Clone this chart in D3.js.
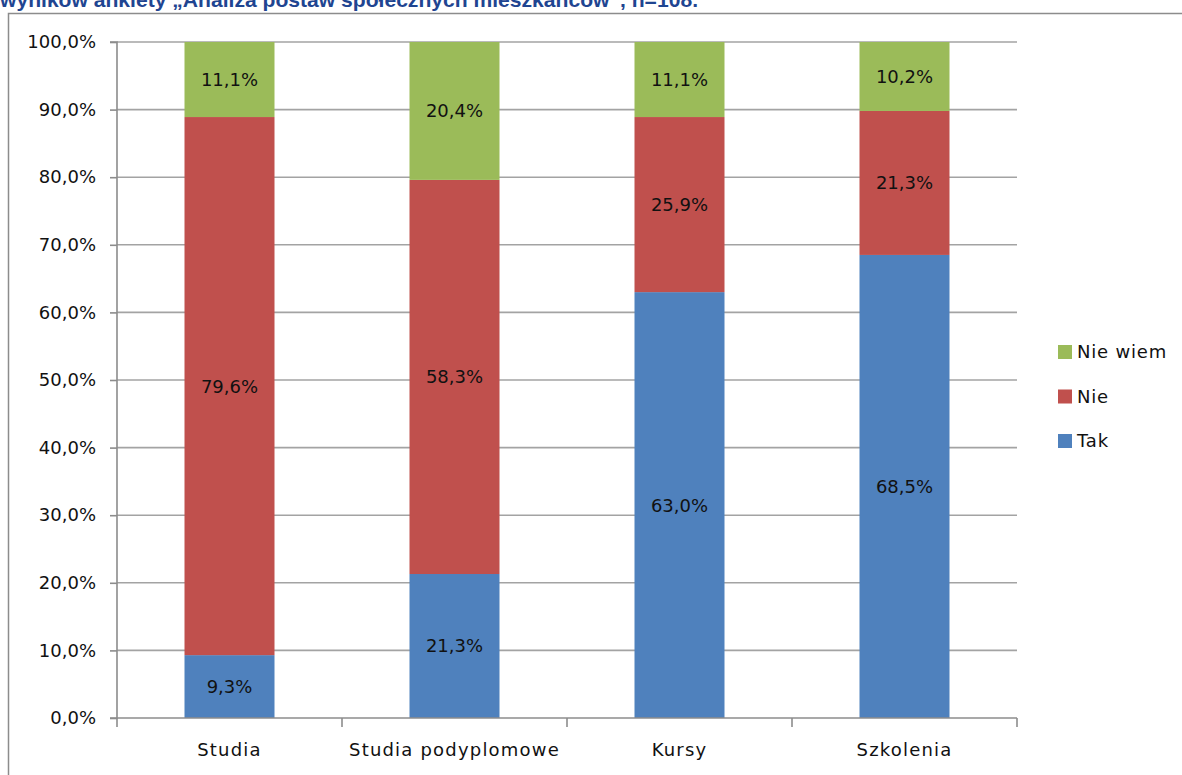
<!DOCTYPE html>
<html><head><meta charset="utf-8">
<script src="https://cdn.jsdelivr.net/npm/d3@7/dist/d3.min.js"></script>
<style>body{margin:0;background:#fff}svg{display:block}</style>
</head><body>
<svg id="c" width="1182" height="775"></svg>
<script>
const categories = ["Studia", "Studia podyplomowe", "Kursy", "Szkolenia"];
const seriesNames = ["Tak", "Nie", "Nie wiem"];
const tak = [9.3, 21.3, 63.0, 68.5];
const nie = [79.6, 58.3, 25.9, 21.3];
const nieWiem = [11.1, 20.4, 11.1, 10.2];
const yTicks = [0, 10, 20, 30, 40, 50, 60, 70, 80, 90, 100];
const colors = ["#4F81BD", "#C0504D", "#9BBB59"];
const titleText = "wyników ankiety „Analiza postaw społecznych mieszkańców”, n=108.";

const svg = d3.select("#c");
const font = "'DejaVu Sans', sans-serif";
const txt = "#111";
const L = 117, R = 1017, T = 42, B = 718;

// title (cut off at top, as in the source)
svg.append("text").attr("x", 0).attr("y", 7)
  .attr("font-family", "'Liberation Sans', Arial, sans-serif").attr("font-weight", "bold")
  .attr("font-size", 20).attr("fill", "#1F4591")
  .attr("textLength", 698).attr("lengthAdjust", "spacingAndGlyphs")
  .text(titleText);

// chart border
svg.append("path").attr("d", `M8.5,790 V13.5 H1200`).attr("fill", "none")
  .attr("stroke", "#8c8c8c").attr("stroke-width", 1.5);

const x = d3.scaleBand().domain(categories).range([L, R]).paddingInner(0.6).paddingOuter(0.3);
const y = d3.scaleLinear().domain([0, 100]).range([B, T]);

// gridlines
svg.append("g").selectAll("line").data(yTicks.filter(d => d > 0)).join("line")
  .attr("x1", L).attr("x2", R).attr("y1", d => y(d)).attr("y2", d => y(d))
  .attr("stroke", "#a3a3a3").attr("stroke-width", 1.6);

// stacked bars
const table = categories.map((c, i) => ({cat: c, "Tak": tak[i], "Nie": nie[i], "Nie wiem": nieWiem[i]}));
const stack = d3.stack().keys(seriesNames)(table);
const fmt = v => v.toFixed(1).replace(".", ",") + "%";
stack.forEach((s, si) => {
  const g = svg.append("g");
  g.selectAll("rect").data(s).join("rect")
    .attr("x", d => x(d.data.cat)).attr("width", x.bandwidth())
    .attr("y", d => y(d[1])).attr("height", d => y(d[0]) - y(d[1]))
    .attr("fill", colors[si]);
  g.selectAll("text").data(s).join("text")
    .attr("x", d => x(d.data.cat) + x.bandwidth() / 2)
    .attr("y", d => (y(d[0]) + y(d[1])) / 2)
    .attr("dy", "0.36em").attr("text-anchor", "middle")
    .attr("font-family", font).attr("font-size", 18).attr("fill", txt)
    .text(d => fmt(d[1] - d[0]));
});

// y axis
const yAxis = d3.axisLeft(y).tickValues(yTicks).tickSize(7).tickPadding(14).tickFormat(d => fmt(d));
const ya = svg.append("g").attr("transform", `translate(${L},0)`).call(yAxis);
ya.select(".domain").attr("stroke", "#8c8c8c").attr("stroke-width", 1.6).attr("d", `M-7,${B}H0V${T}H-7`);
ya.selectAll(".tick line").attr("stroke", "#8c8c8c").attr("stroke-width", 1.6);
ya.selectAll(".tick text").attr("font-family", font).attr("font-size", 18).attr("fill", txt);

// x axis
const xa = svg.append("g").attr("transform", `translate(0,${B})`);
xa.append("line").attr("x1", L).attr("x2", R).attr("stroke", "#8c8c8c").attr("stroke-width", 1.6);
const bounds = categories.map(c => x(c) - (x.step() - x.bandwidth()) / 2).concat([R]);
xa.selectAll("line.tk").data(bounds).join("line").attr("class", "tk")
  .attr("x1", d => d).attr("x2", d => d).attr("y1", 0).attr("y2", 9)
  .attr("stroke", "#8c8c8c").attr("stroke-width", 1.6);
xa.selectAll("text").data(categories).join("text")
  .attr("x", d => x(d) + x.bandwidth() / 2).attr("y", 32).attr("dy", "0.36em")
  .attr("text-anchor", "middle").attr("font-family", font).attr("font-size", 18)
  .attr("letter-spacing", 1.2).attr("fill", txt)
  .text(d => d);

// legend
const legendOrder = [2, 1, 0];
const lg = svg.append("g");
legendOrder.forEach((si, k) => {
  const cy = 352 + k * 44.5;
  lg.append("rect").attr("x", 1058).attr("y", cy - 7).attr("width", 14).attr("height", 14).attr("fill", colors[si]);
  lg.append("text").attr("x", 1077).attr("y", cy).attr("dy", "0.36em")
    .attr("font-family", font).attr("font-size", 18).attr("letter-spacing", 0.8)
    .attr("fill", txt).text(seriesNames[si]);
});
</script>
</body></html>
